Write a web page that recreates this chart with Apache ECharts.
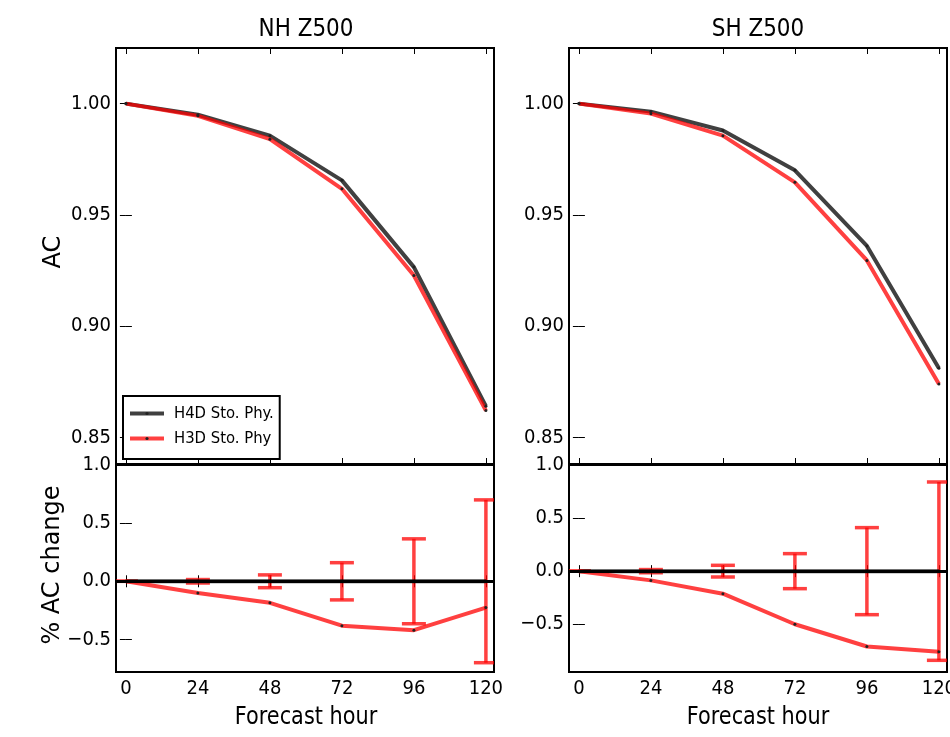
<!DOCTYPE html>
<html>
<head>
<meta charset="utf-8">
<title>NH / SH Z500 anomaly correlation</title>
<script src="https://cdn.jsdelivr.net/npm/echarts@6/dist/echarts.min.js"></script>
<style>
  html, body { margin: 0; padding: 0; background: #fff; }
  #chart { width: 950px; height: 737px; }
</style>
</head>
<body>
<div id="chart"></div>
<script>
// forecast lead times (hours)
var hours = [0, 24, 48, 72, 96, 120];

// anomaly correlation
var nhH4D = [1.000, 0.9950, 0.9856, 0.9655, 0.9265, 0.8640];
var nhH3D = [1.000, 0.9945, 0.9840, 0.9617, 0.9227, 0.8620];
var shH4D = [1.000, 0.9964, 0.9879, 0.9700, 0.9360, 0.8810];
var shH3D = [1.000, 0.9955, 0.9856, 0.9646, 0.9295, 0.8740];

// % AC change relative to H4D
var h4dChange = [0, 0, 0, 0, 0, 0];
var nhChange = [0, -0.100, -0.185, -0.382, -0.420, -0.226];
var shChange = [0, -0.087, -0.212, -0.500, -0.710, -0.760];

// half width of the error bars (centred on zero)
var nhErr = [0, 0.015, 0.055, 0.160, 0.365, 0.700];
var shErr = [0, 0.015, 0.055, 0.165, 0.410, 0.840];

// tick labels
var acTicks = [0.85, 0.90, 0.95, 1.00];
var changeTicks = [-0.5, 0.0, 0.5, 1.0];

(function () {
  var myChart = echarts.init(document.getElementById('chart'));
  var FONT = "'DejaVu Sans Condensed', 'DejaVu Sans', sans-serif";
  var PLAIN = "'DejaVu Sans', sans-serif";
  var RED = 'rgba(255, 0, 0, 0.75)';
  var BLACK = 'rgba(0, 0, 0, 0.75)';

  function pairs(ys) {
    return hours.map(function (h, i) { return [h, ys[i]]; });
  }
  function bars(err) {
    return hours.map(function (h, i) { return [h, -err[i], err[i]]; });
  }

  function xAx(grid, pos, labels) {
    return {
      type: 'value', gridIndex: grid, position: pos,
      min: -3.3, max: 122.7,
      axisLine: { show: false },
      splitLine: { show: false },
      axisTick: { show: true, inside: true, length: 6, customValues: hours,
                  lineStyle: { color: '#000', width: 1 } },
      axisLabel: { show: labels, customValues: hours, fontSize: 20, fontFamily: FONT,
                   color: '#000', margin: 7 }
    };
  }
  function yAx(grid, pos, labels, min, max, ticks, digits) {
    return {
      type: 'value', gridIndex: grid, position: pos,
      min: min, max: max,
      axisLine: { show: false },
      splitLine: { show: false },
      axisTick: { show: true, inside: true, length: 6, customValues: ticks,
                  lineStyle: { color: '#000', width: 1 } },
      axisLabel: {
        show: labels, customValues: ticks, fontSize: 20, fontFamily: FONT,
        color: '#000', margin: 5,
        formatter: function (v) { return v.toFixed(digits).replace('-', '\u2212'); }
      }
    };
  }

  function errorBars(params, api) {
    var x = api.value(0);
    var top = api.coord([x, api.value(2)]);
    var bot = api.coord([x, api.value(1)]);
    var cap = 12;
    var st = { stroke: RED, lineWidth: 3.5 };
    return {
      type: 'group',
      children: [
        { type: 'line', shape: { x1: top[0], y1: top[1], x2: bot[0], y2: bot[1] }, style: st },
        { type: 'line', shape: { x1: top[0] - cap, y1: top[1], x2: top[0] + cap, y2: top[1] }, style: st },
        { type: 'line', shape: { x1: bot[0] - cap, y1: bot[1], x2: bot[0] + cap, y2: bot[1] }, style: st }
      ]
    };
  }

  function acLine(name, color, data, ax) {
    return {
      name: name, type: 'line', xAxisIndex: ax, yAxisIndex: ax,
      data: pairs(data), symbol: 'circle', symbolSize: 3, showSymbol: true,
      lineStyle: { color: color, width: 4 },
      itemStyle: { color: '#222' }
    };
  }

  function zeroLine(ax) {
    var s = acLine('H4D Sto. Phy.', BLACK, h4dChange, ax);
    s.markLine = {
      silent: true, symbol: ['none', 'none'], label: { show: false },
      lineStyle: { color: '#000', width: 3, type: 'solid' },
      data: [{ yAxis: 0 }]
    };
    return s;
  }

  function errSeries(err, ax) {
    return {
      name: 'error', type: 'custom', xAxisIndex: ax, yAxisIndex: ax,
      clip: true, renderItem: errorBars, data: bars(err),
      encode: { x: 0, y: [1, 2] }, z: 3
    };
  }

  // text drawn horizontally squeezed, like the reference picture
  function label(text, x, y, size, rotate, sx) {
    return {
      type: 'text', x: x, y: y, rotation: rotate ? Math.PI / 2 : 0,
      scaleX: sx, scaleY: 1,
      style: {
        text: text, fill: '#000', font: size + 'px ' + PLAIN,
        align: 'center', verticalAlign: 'middle',
        textAlign: 'center', textVerticalAlign: 'middle'
      }
    };
  }

  var gridStyle = { show: true, borderColor: '#000', borderWidth: 2,
                    backgroundColor: 'transparent', outerBoundsMode: 'none', containLabel: false };
  var option = {
    animation: false,
    backgroundColor: '#fff',
    grid: [
      Object.assign({ left: 116, top: 48, width: 378, height: 416 }, gridStyle),
      Object.assign({ left: 116, top: 465, width: 378, height: 207 }, gridStyle),
      Object.assign({ left: 569, top: 48, width: 378, height: 416 }, gridStyle),
      Object.assign({ left: 569, top: 465, width: 378, height: 207 }, gridStyle)
    ],
    xAxis: [
      xAx(0, 'bottom', false), xAx(1, 'bottom', true), xAx(2, 'bottom', false), xAx(3, 'bottom', true),
      xAx(0, 'top', false), xAx(1, 'top', false), xAx(2, 'top', false), xAx(3, 'top', false)
    ],
    yAxis: [
      yAx(0, 'left', true, 0.838, 1.025, acTicks, 2),
      yAx(1, 'left', true, -0.78, 1.0, changeTicks, 1),
      yAx(2, 'left', true, 0.838, 1.025, acTicks, 2),
      yAx(3, 'left', true, -0.95, 1.0, changeTicks, 1),
      yAx(0, 'right', false, 0.838, 1.025, acTicks, 2),
      yAx(1, 'right', false, -0.78, 1.0, changeTicks, 1),
      yAx(2, 'right', false, 0.838, 1.025, acTicks, 2),
      yAx(3, 'right', false, -0.95, 1.0, changeTicks, 1)
    ],
    legend: {
      data: ['H4D Sto. Phy.', 'H3D Sto. Phy'],
      orient: 'vertical', left: 123, top: 396,
      itemWidth: 34, itemHeight: 4, itemGap: 8,
      padding: [9, 6, 12, 5],
      borderColor: '#000', borderWidth: 2, borderRadius: 0,
      backgroundColor: '#fff',
      selectedMode: false,
      lineStyle: { width: 4 },
      textStyle: { fontSize: 16.5, fontFamily: FONT, color: '#000', padding: [0, 0, 0, 5] }
    },
    graphic: [
      label('NH Z500', 306, 29, 25, false, 0.86),
      label('SH Z500', 758, 29, 25, false, 0.86),
      label('AC', 54, 252, 24, true, 1),
      label('% AC change', 53, 565, 24, true, 1),
      label('Forecast hour', 306, 718, 24.5, false, 0.85),
      label('Forecast hour', 758, 718, 24.5, false, 0.85)
    ],
    series: [
      acLine('H4D Sto. Phy.', BLACK, nhH4D, 0),
      acLine('H3D Sto. Phy', RED, nhH3D, 0),
      zeroLine(1),
      errSeries(nhErr, 1),
      acLine('H3D Sto. Phy', RED, nhChange, 1),
      acLine('H4D Sto. Phy.', BLACK, shH4D, 2),
      acLine('H3D Sto. Phy', RED, shH3D, 2),
      zeroLine(3),
      errSeries(shErr, 3),
      acLine('H3D Sto. Phy', RED, shChange, 3)
    ]
  };

  myChart.setOption(option);
  window.addEventListener('resize', function () {
    myChart.resize();
  });
})();
</script>
</body>
</html>
